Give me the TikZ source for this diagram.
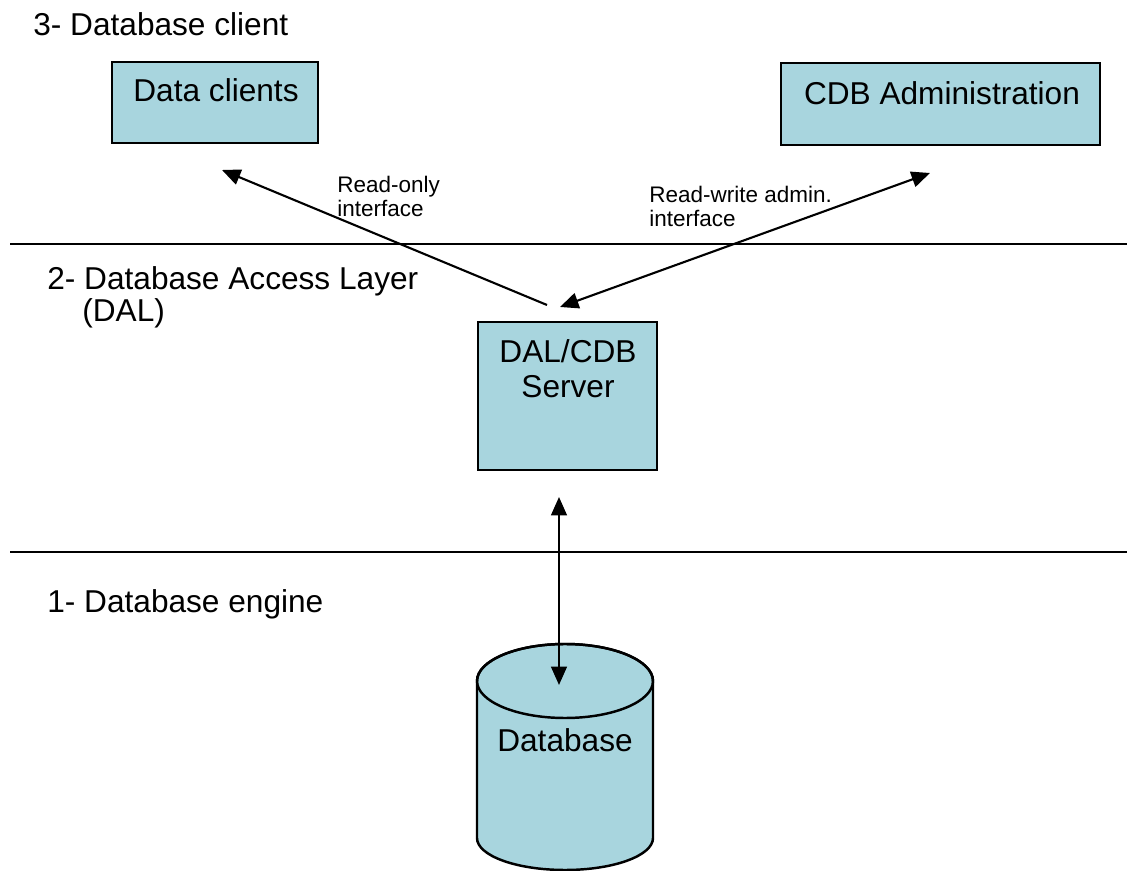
\documentclass[tikz,border=0pt]{standalone}
\usepackage{fontspec}
\setmainfont{Liberation Sans}
\usetikzlibrary{arrows.meta}
\definecolor{boxfill}{RGB}{168,213,222}
\tikzset{
  box/.style={draw=black, line width=1.4pt, fill=boxfill, inner sep=0pt},
  big/.style={font=\fontsize{18}{20}\selectfont, inner sep=0pt},
  small/.style={font=\fontsize{12.8}{13.5}\selectfont, inner sep=0pt, align=left},
  layerline/.style={line width=1.1pt},
  tip/.tip={Triangle[length=10.5pt,width=9pt]},
  oneway/.style={line width=1.2pt, -tip},
  twoway/.style={line width=1.2pt, tip-tip}
}
\begin{document}
\begin{tikzpicture}[x=0.02cm, y=-0.02cm]
\useasboundingbox (0,0) rectangle (1127,871);

% layer separators
\draw[layerline] (10,244) -- (1127,244);
\draw[layerline] (10,552) -- (1127,552);

% layer titles
\node[big, anchor=base west] (layer3) at (33,36) {3- Database client};
\node[big, anchor=base west] (layer2) at (47,290) {2- Database Access Layer};
\node[big, anchor=base west] (layer2b) at (82,322) {(DAL)};
\node[big, anchor=base west] (layer1) at (47,613) {1- Database engine};

% client boxes
\node[box, minimum width=4.12cm, minimum height=1.62cm] (clients) at (215,102.5) {};
\node[big, anchor=base] (clientsText) at (216,102) {Data clients};
\node[box, minimum width=6.38cm, minimum height=1.64cm] (admin) at (940.5,104) {};
\node[big, anchor=base] (adminText) at (942,105) {CDB Administration};

% access layer server
\node[box, minimum width=3.58cm, minimum height=2.96cm] (server) at (567.5,396) {};
\node[big, anchor=north, align=center] (serverText) at (568,339) {DAL/CDB\\Server};

% database cylinder
\path[fill=boxfill, draw=black, line width=1.4pt]
  (477,681) -- (477,838) arc[start angle=180, end angle=0, x radius=88, y radius=32]
  -- (653,681) arc[start angle=0, end angle=-180, x radius=88, y radius=37] -- cycle;
\draw[line width=1.4pt] (565,681) ellipse [x radius=88, y radius=37];
\node[big, anchor=base] (db) at (565,751) {Database};

% interface labels
\node[small, anchor=north west] (roLabel) at (337,176) {Read-only\\interface};
\node[small, anchor=north west] (rwLabel) at (649,186) {Read-write admin.\\interface};

% connector end points
\coordinate (roTail) at (547,305);
\coordinate (roTip) at (222,170);
\coordinate (rwTail) at (560,307);
\coordinate (rwTip) at (930,173);
\coordinate (srvBottom) at (559,497);
\coordinate (dbTop) at (559,685);

% connectors
\draw[oneway] (roTail) -- (roTip);
\draw[twoway] (rwTail) -- (rwTip);
\draw[twoway] (srvBottom) -- (dbTop);
\end{tikzpicture}
\end{document}
